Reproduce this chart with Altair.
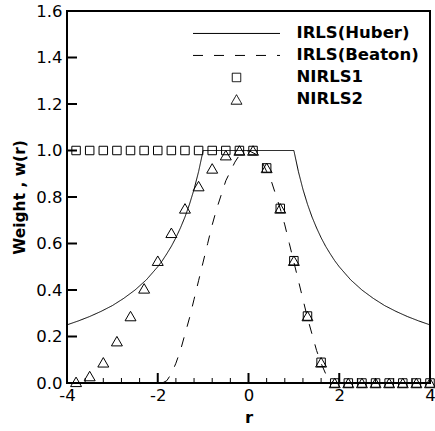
import altair as alt
import pandas as pd

# ---------------- data ----------------
series_names = ["IRLS(Huber)", "IRLS(Beaton)", "NIRLS1", "NIRLS2"]

marker_r = [-3.8, -3.5, -3.2, -2.9, -2.6, -2.3, -2.0, -1.7, -1.4, -1.1, -0.8, -0.5, -0.2,
            0.1, 0.4, 0.7, 1.0, 1.3, 1.6, 1.9, 2.2, 2.5, 2.8, 3.1, 3.4, 3.7, 4.0]
nirls1_w = [1.0, 1.0, 1.0, 1.0, 1.0, 1.0, 1.0, 1.0, 1.0, 1.0, 1.0, 1.0, 1.0,
            1.0, 0.925, 0.751, 0.526, 0.288, 0.089, 0.0, 0.0, 0.0, 0.0, 0.0, 0.0, 0.0, 0.0]
nirls2_w = [0.005, 0.03, 0.089, 0.18, 0.288, 0.407, 0.526, 0.646, 0.751, 0.847, 0.923, 0.98, 1.0,
            1.0, 0.925, 0.751, 0.526, 0.288, 0.089, 0.0, 0.0, 0.0, 0.0, 0.0, 0.0, 0.0, 0.0]

huber_r = [-4.0, -3.75, -3.5, -3.25, -3.0, -2.75, -2.5, -2.25, -2.0, -1.9, -1.8, -1.7, -1.6,
           -1.5, -1.4, -1.3, -1.2, -1.1, -1.0,
           1.0, 1.1, 1.2, 1.3, 1.4, 1.5, 1.6, 1.7, 1.8, 1.9, 2.0, 2.25, 2.5, 2.75, 3.0,
           3.25, 3.5, 3.75, 4.0]
huber_w = [0.25, 0.267, 0.286, 0.308, 0.333, 0.364, 0.40, 0.444, 0.50, 0.526, 0.556, 0.588, 0.625,
           0.667, 0.714, 0.769, 0.833, 0.909, 1.0,
           1.0, 0.909, 0.833, 0.769, 0.714, 0.667, 0.625, 0.588, 0.556, 0.526, 0.50, 0.444, 0.40,
           0.364, 0.333, 0.308, 0.286, 0.267, 0.25]

beaton_r = [-1.9, -1.8, -1.7, -1.6, -1.5, -1.4, -1.3, -1.2, -1.1, -1.0, -0.9, -0.8, -0.7, -0.6,
            -0.5, -0.4, -0.3, -0.2, -0.1, 0.0, 0.1, 0.2, 0.3, 0.4, 0.5, 0.6, 0.7, 0.8, 0.9, 1.0,
            1.1, 1.2, 1.3, 1.4, 1.5, 1.6, 1.7, 1.8, 1.9]
beaton_w = [0.0, 0.01, 0.04, 0.085, 0.14, 0.21, 0.28, 0.36, 0.44, 0.52, 0.60, 0.68, 0.75, 0.81,
            0.87, 0.91, 0.95, 0.98, 0.99, 1.0, 0.99, 0.98, 0.95, 0.91, 0.87, 0.81, 0.75, 0.68,
            0.60, 0.52, 0.44, 0.36, 0.28, 0.21, 0.14, 0.085, 0.04, 0.01, 0.0]

x_major = [-4, -2, 0, 2, 4]
x_minor = [-3.6, -3.2, -2.8, -2.4, -1.6, -1.2, -0.8, -0.4, 0.4, 0.8, 1.2, 1.6, 2.4, 2.8, 3.2, 3.6]
y_major = [0.0, 0.2, 0.4, 0.6, 0.8, 1.0, 1.2, 1.4, 1.6]

# ---------------- tables ----------------
lines_df = pd.concat([
    pd.DataFrame({"r": huber_r, "w": huber_w, "series": series_names[0]}),
    pd.DataFrame({"r": beaton_r, "w": beaton_w, "series": series_names[1]}),
])
points_df = pd.concat([
    pd.DataFrame({"r": marker_r, "w": nirls1_w, "series": series_names[2]}),
    pd.DataFrame({"r": marker_r, "w": nirls2_w, "series": series_names[3]}),
])
xmaj_df = pd.DataFrame({"r": x_major})
xmin_df = pd.DataFrame({"r": x_minor})
ymaj_df = pd.DataFrame({"w": y_major})

W, H = 363, 372
FONT = "DejaVu Sans"

xscale = alt.Scale(domain=[-4, 4], nice=False, zero=False)
yscale = alt.Scale(domain=[0, 1.6], nice=False, zero=False)

legend = alt.Legend(
    title=None, orient="none", legendX=125.5, legendY=11.6, padding=0,
    labelFont=FONT, labelFontSize=16.5, labelFontWeight="bold", labelColor="black",
    labelOffset=16, labelLimit=0, clipHeight=21.7, rowPadding=0,
    symbolStrokeColor="black", symbolStrokeWidth=1, symbolFillColor="transparent",
    symbolOpacity=1, symbolOffset=0,
)

x_axis = alt.Axis(values=x_major, labelExpr="'' + datum.value", ticks=False, grid=False,
                  domain=False, labelFont=FONT, labelFontSize=16.5, labelColor="black",
                  labelPadding=4, title="r", titleFont=FONT, titleFontSize=16.5,
                  titleFontWeight="bold", titleColor="black", titlePadding=6,
                  labelFlush=False, labelOverlap=False)
y_axis = alt.Axis(values=y_major, format=".1f", ticks=False, grid=False, domain=False,
                  labelFont=FONT, labelFontSize=16.5, labelColor="black", labelPadding=5,
                  title="Weight , w(r)", titleFont=FONT, titleFontSize=15.5,
                  titleFontWeight="bold", titleColor="black", titlePadding=8,
                  labelFlush=False, labelOverlap=False)

X = alt.X("r:Q", scale=xscale, axis=x_axis, title="r")
Y = alt.Y("w:Q", scale=yscale, axis=y_axis, title="Weight , w(r)")

lines = alt.Chart(lines_df).mark_line(color="black", strokeWidth=1).encode(
    x=X, y=Y,
    detail="series:N",
    strokeDash=alt.StrokeDash("series:N", scale=alt.Scale(
        type="ordinal", domain=series_names, range=[[1, 0], [10, 11], [1, 0], [1, 0]]),
        legend=legend),
)

points = alt.Chart(points_df).mark_point(filled=False, color="black", strokeWidth=1,
                                         opacity=1, clip=False).encode(
    x=X, y=Y,
    shape=alt.Shape("series:N", scale=alt.Scale(
        type="ordinal", domain=series_names,
        range=["stroke", "stroke", "square", "triangle-up"]), legend=legend),
    size=alt.Size("series:N", scale=alt.Scale(
        type="ordinal", domain=series_names, range=[7569, 7569, 72, 120]), legend=legend),
)

xmaj = alt.Chart(xmaj_df).mark_rule(color="black", strokeWidth=2).encode(
    x=X, y=alt.value(H), y2=alt.value(H - 10))
xmin = alt.Chart(xmin_df).mark_rule(color="black", strokeWidth=1).encode(
    x=X, y=alt.value(H), y2=alt.value(H - 5))
ymaj = alt.Chart(ymaj_df).mark_rule(color="black", strokeWidth=2).encode(
    y=Y, x=alt.value(0), x2=alt.value(10))

chart = alt.layer(lines, points, xmaj, xmin, ymaj).properties(
    width=W, height=H,
    background="white",
    autosize=alt.AutoSizeParams(type="none"),
    padding={"left": 67, "top": 11, "right": 5, "bottom": 48},
).configure_view(stroke="black", strokeWidth=2)

chart.save("out.html", embed_options={"renderer": "svg", "actions": False})
